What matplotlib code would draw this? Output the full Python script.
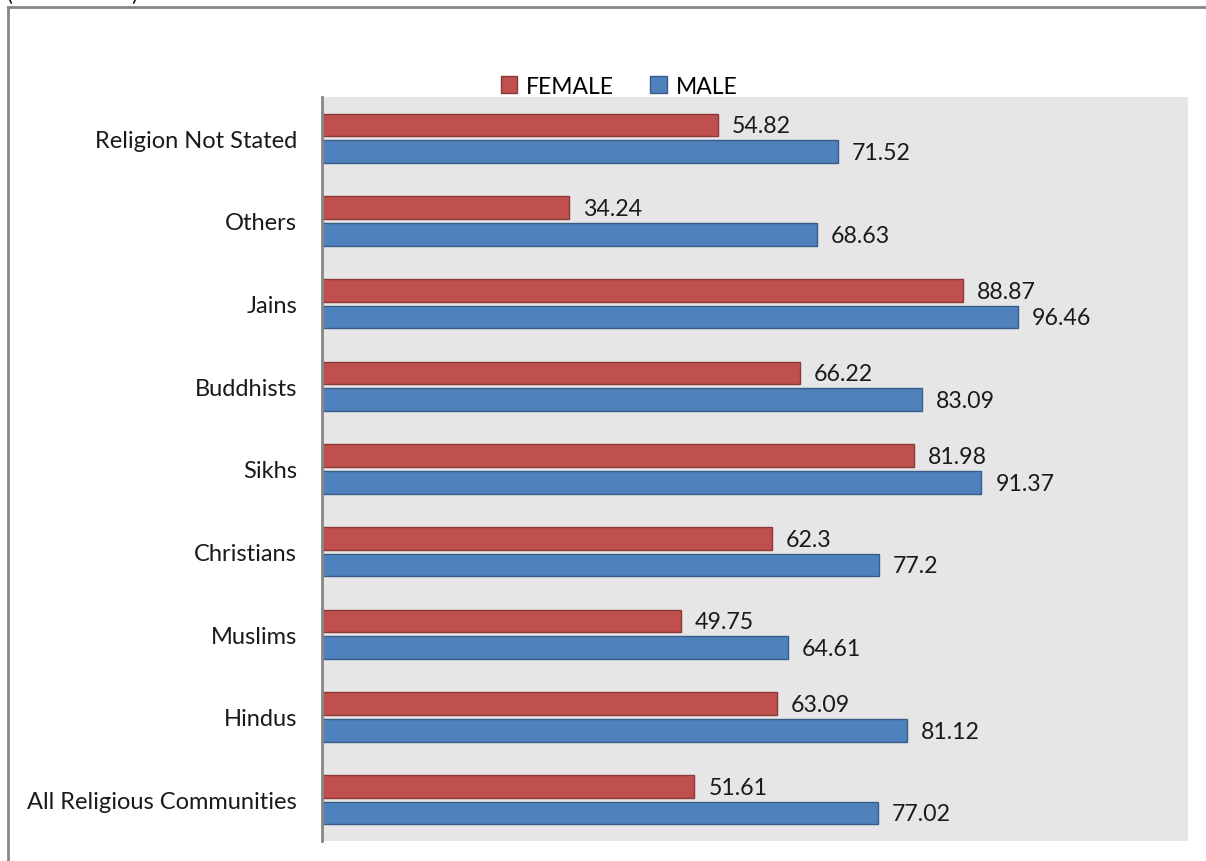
import matplotlib
matplotlib.use("Agg")
import matplotlib.pyplot as plt
import numpy as np
from matplotlib.patches import Patch

categories = ["All Religious Communities", "Hindus", "Muslims", "Christians",
              "Sikhs", "Buddhists", "Jains", "Others", "Religion Not Stated"]
female = [51.61, 63.09, 49.75, 62.3, 81.98, 66.22, 88.87, 34.24, 54.82]
male = [77.02, 81.12, 64.61, 77.2, 91.37, 83.09, 96.46, 68.63, 71.52]
female_labels = ["51.61", "63.09", "49.75", "62.3", "81.98", "66.22", "88.87", "34.24", "54.82"]
male_labels = ["77.02", "81.12", "64.61", "77.2", "91.37", "83.09", "96.46", "68.63", "71.52"]

plt.rcParams['font.family'] = ['Lato', 'DejaVu Sans']

W, H = 1206, 862
fig = plt.figure(figsize=(W / 100, H / 100), dpi=100)
fig.patch.set_facecolor('white')

# outer border lines (top & left)
fig.add_artist(plt.Line2D([8 / W, 8 / W], [0, 1 - 8 / H], color='#878787', lw=2))
fig.add_artist(plt.Line2D([8 / W, 1], [1 - 8 / H, 1 - 8 / H], color='#878787', lw=2))
# parentheses of a caption cut off by the top edge (as in the reference)
fig.text(7 / W, 1 - 5 / H, "(", va='bottom', ha='left', fontsize=16, color='#1a1a1a')
fig.text(131 / W, 1 - 5 / H, ")", va='bottom', ha='left', fontsize=16, color='#1a1a1a')

ax = fig.add_axes([322 / W, 1 - 842 / H, (1188 - 322) / W, (842 - 98) / H])
ax.set_facecolor('#E6E6E6')

y = np.arange(len(categories))
h = 0.272
off = 0.161
red, red_e = '#C0504D', '#8C3836'
blue, blue_e = '#4F81BD', '#385D8A'
ax.barh(y + off, female, height=h, color=red, edgecolor=red_e, linewidth=1)
ax.barh(y - off, male, height=h, color=blue, edgecolor=blue_e, linewidth=1)

for yi, v, s in zip(y, female, female_labels):
    ax.annotate(s, (v, yi + off), xytext=(10, -0.5), textcoords='offset points',
                va='center', ha='left', fontsize=16.7, color='#1a1a1a')
for yi, v, s in zip(y, male, male_labels):
    ax.annotate(s, (v, yi - off), xytext=(10, -0.5), textcoords='offset points',
                va='center', ha='left', fontsize=16.7, color='#1a1a1a')

ax.set_xlim(0, 120)
ax.set_ylim(-0.5, len(categories) - 0.5)
ax.set_xticks([])
ax.set_yticks(y)
ax.set_yticklabels(categories, fontsize=17, color='#1a1a1a')
ax.tick_params(axis='y', length=0, pad=18)
for s in ['top', 'right', 'bottom']:
    ax.spines[s].set_visible(False)
ax.spines['left'].set_color('#868686')
ax.spines['left'].set_linewidth(2)

handles = [Patch(facecolor=red, edgecolor=red_e), Patch(facecolor=blue, edgecolor=blue_e)]
fig.legend(handles, ['FEMALE', 'MALE'], loc='center', bbox_to_anchor=(619 / W, 1 - 87 / H),
           ncol=2, frameon=False, fontsize=16.5, handlelength=0.7, handleheight=0.7,
           handletextpad=0.4, columnspacing=1.6)

fig.savefig('out.png', dpi=100, facecolor='white')
